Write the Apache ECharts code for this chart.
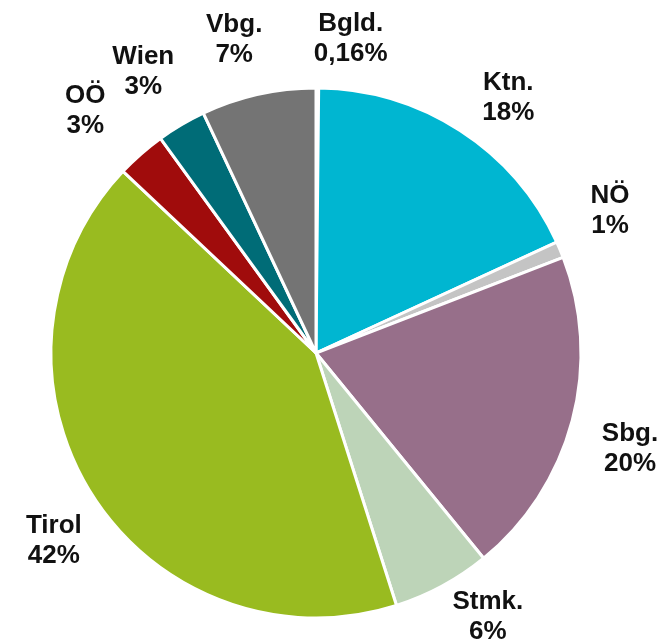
<!DOCTYPE html>
<html>
<head>
<meta charset="utf-8">
<script src="https://cdn.jsdelivr.net/npm/echarts@6/dist/echarts.min.js"></script>
<style>
  html, body { margin: 0; padding: 0; background: #fff; }
  #main { width: 666px; height: 642px; }
</style>
</head>
<body>
<div id="main"></div>
<script>
var names = ['Bgld.', 'Ktn.', 'NÖ', 'Sbg.', 'Stmk.', 'Tirol', 'OÖ', 'Wien', 'Vbg.'];
var values = [0.16, 18, 1, 20, 6, 42, 3, 3, 7];
var labels = ['0,16%', '18%', '1%', '20%', '6%', '42%', '3%', '3%', '7%'];
var colors = ['#eeeeee', '#00b6d1', '#c4c4c4', '#976f8a', '#bdd4b8', '#99bb20', '#a00c0c', '#006c77', '#747474'];

var chartDom = document.getElementById('main');
var myChart = echarts.init(chartDom);
var option;

var cx = 316, cy = 353, radius = 265;
var labelR = 325;
// hand-tuned label nudges: angle (deg) and radius (px) away from slice middle
var labelAngleNudge = [6, 4, -3, 2, -4.7, -3.3, -2.2, -0.9, -2];
var labelRadiusNudge = [-8, -5, 2, 3, -11, -3, 10, 6, 0];

var total = values.reduce(function (a, b) { return a + b; }, 0);
var midAngles = [];
var acc = 0;
values.forEach(function (v) {
  midAngles.push((acc + v / 2) / total * 360);
  acc += v;
});

option = {
  animation: false,
  series: [
    {
      type: 'pie',
      center: [cx, cy],
      radius: radius,
      startAngle: 90,
      clockwise: true,
      avoidLabelOverlap: false,
      itemStyle: {
        borderColor: '#fff',
        borderWidth: 3
      },
      label: {
        show: true,
        position: 'outside',
        formatter: function (p) {
          return p.name + '\n' + labels[p.dataIndex];
        },
        color: '#111',
        fontFamily: 'Liberation Sans, Arial, sans-serif',
        fontWeight: 'bold',
        fontSize: 26,
        lineHeight: 30,
        align: 'center'
      },
      labelLine: { show: false },
      labelLayout: function (params) {
        var i = params.dataIndex;
        var a = (midAngles[i] + labelAngleNudge[i]) * Math.PI / 180;
        var r = labelR + labelRadiusNudge[i];
        return {
          x: cx + r * Math.sin(a),
          y: cy - r * Math.cos(a) + 1,
          align: 'center',
          verticalAlign: 'middle'
        };
      },
      data: names.map(function (n, i) {
        return { name: n, value: values[i], itemStyle: { color: colors[i] } };
      })
    }
  ]
};

option && myChart.setOption(option);
</script>
</body>
</html>
